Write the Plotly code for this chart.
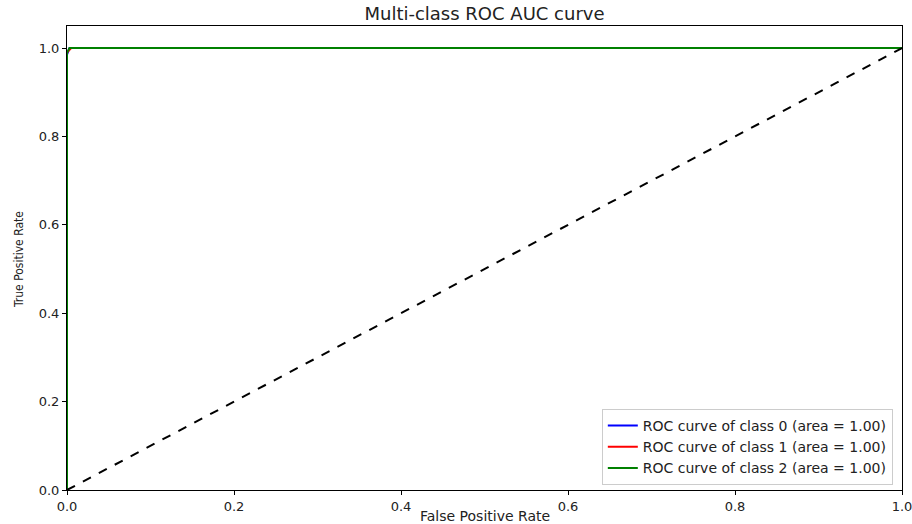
import plotly.graph_objects as go

# ROC data
fpr_class0 = [0.0, 0.0, 0.003, 1.0]
tpr_class0 = [0.0, 0.985, 1.0, 1.0]
fpr_class1 = [0.0, 0.0, 0.005, 1.0]
tpr_class1 = [0.0, 0.99, 1.0, 1.0]
fpr_class2 = [0.0, 0.0, 0.003, 1.0]
tpr_class2 = [0.0, 0.99, 1.0, 1.0]
auc_values = [1.00, 1.00, 1.00]
class_names = ["0", "1", "2"]
colors = ["blue", "red", "green"]
diag_x = [0.0, 1.0]
diag_y = [0.0, 1.0]
tick_vals = [0.0, 0.2, 0.4, 0.6, 0.8, 1.0]

W, H = 912, 524
L, R, T, B = 67, 10, 26, 34

fig = go.Figure()
curves = [(fpr_class0, tpr_class0), (fpr_class1, tpr_class1), (fpr_class2, tpr_class2)]
for (fx, ty), name, auc, col in zip(curves, class_names, auc_values, colors):
    fig.add_trace(go.Scatter(
        x=fx, y=ty, mode="lines",
        line=dict(color=col, width=2),
        name=f"ROC curve of class {name} (area = {auc:.2f})",
    ))
fig.add_trace(go.Scatter(
    x=diag_x, y=diag_y, mode="lines",
    line=dict(color="black", width=2, dash="dash"),
    showlegend=False,
))

axis_common = dict(
    showline=True, linecolor="black", linewidth=1, mirror=True,
    ticks="outside", ticklen=4, tickcolor="black", tickwidth=1,
    showgrid=False, zeroline=False, automargin=False,
    ticklabeloverflow="allow",
    tickvals=tick_vals, tickformat=".1f",
    tickfont=dict(family="DejaVu Sans", size=13, color="#222"),
)

fig.update_layout(
    width=W, height=H,
    margin=dict(l=L, r=R, t=T, b=B),
    paper_bgcolor="white", plot_bgcolor="white",
    title=dict(text="Multi-class ROC AUC curve", x=0.5, xref="paper",
               xanchor="center", y=1 - 14 / H, yref="container", yanchor="middle",
               font=dict(family="DejaVu Sans", size=18, color="#222")),
    xaxis=dict(range=[0, 1], **axis_common),
    yaxis=dict(range=[0, 1.05], **axis_common),
    legend=dict(x=0.989, y=0.011, xanchor="right", yanchor="bottom",
                bgcolor="rgba(255,255,255,0.8)", bordercolor="#cccccc", borderwidth=1,
                font=dict(family="DejaVu Sans", size=14, color="#222"),
                tracegroupgap=0),
    showlegend=True,
    annotations=[
        dict(text="False Positive Rate", xref="paper", yref="paper",
             x=0.5, y=-(516 - (H - B)) / (H - T - B), xanchor="center", yanchor="middle",
             showarrow=False, font=dict(family="DejaVu Sans", size=14, color="#222")),
        dict(text="True Positive Rate", xref="paper", yref="paper",
             x=-(L - 19) / (W - L - R), y=(H - B - 260) / (H - T - B),
             xanchor="center", yanchor="middle", textangle=-90,
             showarrow=False, font=dict(family="DejaVu Sans Condensed", size=12, color="#222")),
    ],
)

fig.write_html("out.html")
